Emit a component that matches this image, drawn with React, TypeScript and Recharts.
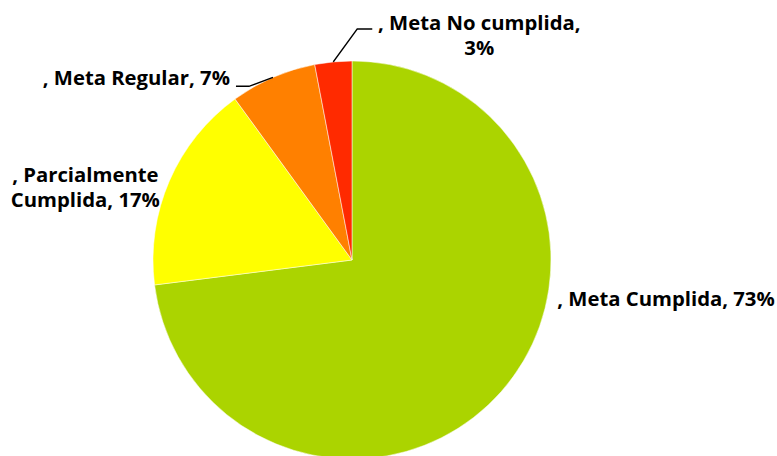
import { PieChart, Pie, Cell } from "recharts";

document.body.style.margin = "0";

const categories = ["Meta Cumplida", "Parcialmente Cumplida", "Meta Regular", "Meta No cumplida"];
const shares = [73, 17, 7, 3];
const colors = ["#ABD400", "#FFFF00", "#FF8000", "#FF2A00"];

// label text lines per slice
const labelLines = [
  [", Meta Cumplida, 73%"],
  [", Parcialmente", "Cumplida, 17%"],
  [", Meta Regular, 7%"],
  [", Meta No cumplida,", "3%"],
];

const data = categories.map((name, i) => ({ name, value: shares[i] }));

const RAD = Math.PI / 180;
const FONT = "'Open Sans', sans-serif";

// text placement relative to each slice's edge point; leader = elbow offsets
const layout = [
  { dx: 56, dy: -86, anchor: "start", leader: null },
  { dx: -84, dy: 1, anchor: "middle", leader: null },
  { dx: -43, dy: 8, anchor: "end", leader: [[-24, 9], [-37, 9]] },
  { dx: 146, dy: -32, anchor: "middle", leader: [[24, -33], [39, -33]] },
];

function renderLabel(props: any) {
  const { cx, cy, midAngle, outerRadius, index } = props;
  const ex = cx + outerRadius * Math.cos(-midAngle * RAD);
  const ey = cy + outerRadius * Math.sin(-midAngle * RAD);
  const l = layout[index];
  const lines = labelLines[index];
  return (
    <g key={`lab-${index}`}>
      {l.leader && (
        <polyline
          points={[[0, 0], ...l.leader].map(([x, y]) => `${ex + x},${ey + y}`).join(" ")}
          fill="none"
          stroke="#000"
          strokeWidth={1.5}
        />
      )}
      <text
        x={ex + l.dx}
        y={ey + l.dy}
        textAnchor={l.anchor}
        fontFamily={FONT}
        fontWeight={700}
        fontSize={20.3}
        fill="#000"
      >
        {lines.map((t, i) => (
          <tspan key={i} x={ex + l.dx} dy={i === 0 ? 0 : 25.5}>
            {t}
          </tspan>
        ))}
      </text>
    </g>
  );
}

export default function App() {
  return (
    <div style={{ width: 777, height: 456, background: "#fff", overflow: "hidden" }}>
      <PieChart width={777} height={456} margin={{ top: 0, right: 0, bottom: 0, left: 0 }}>
        <Pie
          data={data}
          dataKey="value"
          nameKey="name"
          cx={352}
          cy={260}
          outerRadius={199}
          startAngle={90}
          endAngle={-270}
          stroke="#ffffff"
          strokeWidth={0.5}
          label={renderLabel}
          labelLine={false}
          isAnimationActive={false}
        >
          {data.map((d, i) => (
            <Cell key={d.name} fill={colors[i]} />
          ))}
        </Pie>
      </PieChart>
    </div>
  );
}
